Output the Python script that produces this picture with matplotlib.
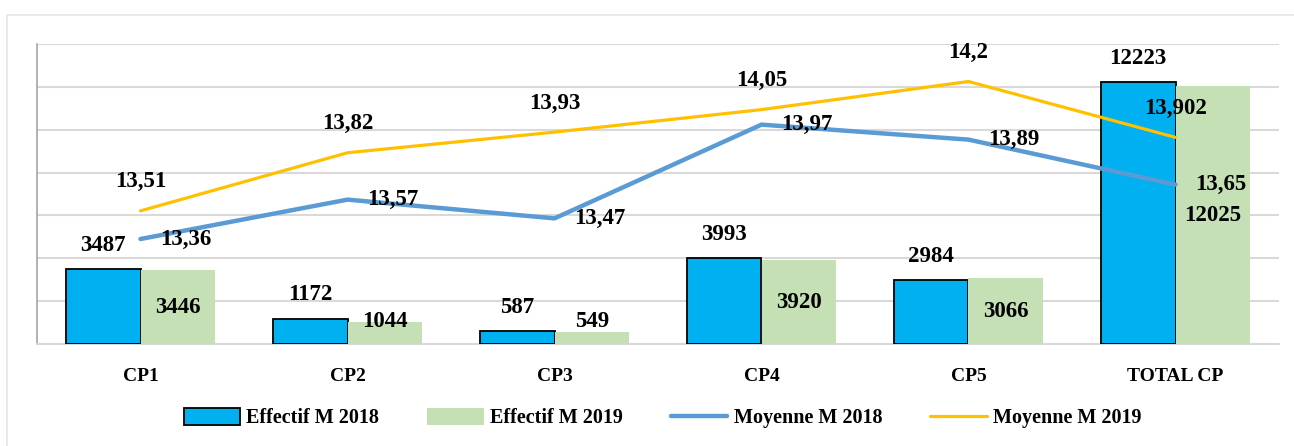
import numpy as np
import matplotlib.pyplot as plt
from matplotlib.patches import Rectangle

# data
categories = ['CP1', 'CP2', 'CP3', 'CP4', 'CP5', 'TOTAL CP']
effectif_2018 = [3487, 1172, 587, 3993, 2984, 12223]
effectif_2019 = [3446, 1044, 549, 3920, 3066, 12025]
moyenne_2018 = [13.36, 13.57, 13.47, 13.97, 13.89, 13.65]
moyenne_2019 = [13.51, 13.82, 13.93, 14.05, 14.2, 13.902]

BLUE_BAR = '#00B0F0'
GREEN_BAR = '#C5E0B4'
BLUE_LINE = '#5B9BD5'
YELLOW_LINE = '#FFC000'
GRID = '#D9D9D9'

plt.rcParams['font.family'] = ['Liberation Serif', 'DejaVu Serif']
plt.rcParams['font.weight'] = 'bold'

fig = plt.figure(figsize=(12.94, 4.46), dpi=100)
ax = fig.add_axes([37 / 1294, 1 - 344 / 446, (1279 - 37) / 1294, 300 / 446])

# light outer frame of the chart area (right/bottom edges run off the image)
fig.patches.append(Rectangle((7 / 1294, -10 / 446), 1300 / 1294, 441 / 446,
                             transform=fig.transFigure, fill=False,
                             edgecolor='#E6E6E6', linewidth=1.2))

x = np.arange(len(categories))
w = 0.36

ax.bar(x - w / 2, effectif_2018, w, color=BLUE_BAR, edgecolor='black',
       linewidth=1.3, zorder=3, label='Effectif M 2018')
ax.bar(x + w / 2, effectif_2019, w, color=GREEN_BAR, linewidth=0,
       zorder=3, label='Effectif M 2019')

ax.set_ylim(0, 14000)
ax.set_xlim(-0.5, len(categories) - 0.5)
ax.set_yticks(np.arange(0, 14001, 2000))
ax.yaxis.grid(True, color=GRID, linewidth=1.5, zorder=0)
ax.set_xticks(x)
ax.set_xticklabels(categories, fontsize=14, fontweight='bold')
for s in ['top', 'right']:
    ax.spines[s].set_visible(False)
ax.spines['left'].set_color('#A6A6A6')
ax.spines['left'].set_linewidth(1.2)
ax.spines['bottom'].set_color(GRID)
ax.spines['bottom'].set_linewidth(1.5)

# bar labels
for xi, v in zip(x, effectif_2018):
    ax.annotate(str(v), (xi - w / 2, v), xytext=(0, 24), textcoords='offset pixels',
                ha='center', va='center', fontsize=16.5, fontweight='bold', zorder=6)
for xi, v in zip(x, effectif_2019):
    ax.text(xi + w / 2, max(v / 2, 1030), str(v), ha='center', va='center',
            fontsize=16.5, fontweight='bold', zorder=6)

# lines on a hidden secondary axis
ax2 = ax.twinx()
ax2.set_ylim(12.8, 14.4)
ax2.axis('off')
ax2.plot(x, moyenne_2018, color=BLUE_LINE, linewidth=3.2,
         solid_capstyle='round', label='Moyenne M 2018', zorder=4)
ax2.plot(x, moyenne_2019, color=YELLOW_LINE, linewidth=2.3,
         solid_capstyle='round', label='Moyenne M 2019', zorder=4)

# twinx turns the left ticks back on, so hide them here
ax.tick_params(axis='y', left=False, right=False, labelleft=False, labelright=False)
ax.tick_params(axis='x', bottom=False, pad=14)

for xi, v in zip(x, moyenne_2018):
    ax2.annotate(str(v).replace('.', ','), (xi, v), xytext=(20, 0),
                 textcoords='offset pixels', ha='left', va='center',
                 fontsize=16.5, fontweight='bold', zorder=6)
for xi, v in zip(x, moyenne_2019):
    ax2.annotate(str(v).replace('.', ','), (xi, v), xytext=(0, 29),
                 textcoords='offset pixels', ha='center', va='center',
                 fontsize=16.5, fontweight='bold', zorder=6)

h1, l1 = ax.get_legend_handles_labels()
h2, l2 = ax2.get_legend_handles_labels()
fig.legend(h1 + h2, l1 + l2, loc='center', bbox_to_anchor=(0.512, 1 - 418 / 446),
           ncol=4, frameon=False, handlelength=2.8,
           handleheight=0.9, handletextpad=0.3, columnspacing=2.4,
           prop={'weight': 'bold', 'size': 14.5})

fig.savefig('out.png', dpi=100)
